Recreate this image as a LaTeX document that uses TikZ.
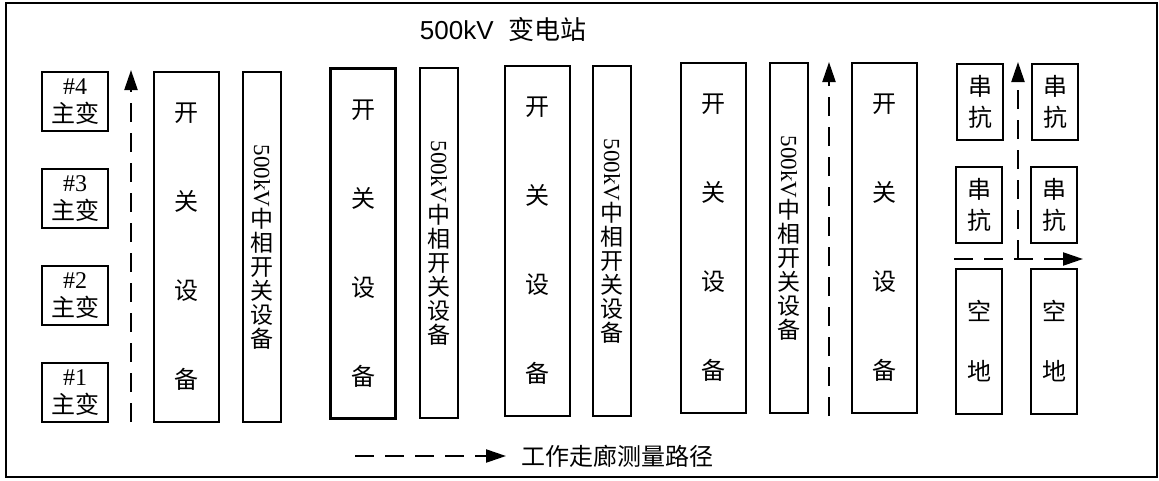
\documentclass[tikz,border=0pt]{standalone}
\usepackage{fontspec}
\usepackage{graphicx}
\setmainfont{Liberation Serif}
\newfontfamily\cjk{Noto Sans CJK SC}
\newfontfamily\lsans{Liberation Sans}
\usetikzlibrary{arrows.meta}
\tikzset{
  eqbox/.style={draw, line width=2.2pt, inner sep=0pt, align=center, rectangle},
  swbox/.style={eqbox, minimum width=65pt, minimum height=350pt, font=\cjk\fontsize{24pt}{89pt}\selectfont},
  vbox/.style={eqbox, minimum width=38pt, minimum height=350pt, font=\fontsize{23pt}{24pt}\selectfont},
  trbox/.style={eqbox, minimum width=66pt, minimum height=59pt, font=\fontsize{24pt}{28pt}\selectfont},
  cxbox/.style={eqbox, minimum width=46pt, minimum height=76pt, font=\cjk\fontsize{24pt}{31pt}\selectfont},
  kdbox/.style={eqbox, minimum width=46pt, minimum height=145pt, font=\cjk\fontsize{24pt}{60pt}\selectfont},
  path/.style={line width=2.2pt, dash pattern=on 19pt off 11pt, -{Triangle[length=20pt,width=13pt]}},
}
\newcommand{\vtext}{\rotatebox{-90}{500kV}\\{\cjk 中}\\{\cjk 相}\\{\cjk 开}\\{\cjk 关}\\{\cjk 设}\\{\cjk 备}}
\begin{document}
\begin{tikzpicture}[x=1pt,y=-1pt]
\useasboundingbox (0,0) rectangle (1159,480);
\draw[line width=2.2pt] (6,3) rectangle (1157,477);
\node[font=\fontsize{26pt}{30pt}\selectfont] (title) at (503,30) {\lsans 500kV\ \ {\cjk 变电站}};
% transformers
\node[trbox] (t4) at (75,101.5) {\#4\\{\cjk 主变}};
\node[trbox] (t3) at (75,198.5) {\#3\\{\cjk 主变}};
\node[trbox] (t2) at (75,295.5) {\#2\\{\cjk 主变}};
\node[trbox] (t1) at (75,392.5) {\#1\\{\cjk 主变}};
% switch equipment
\node[swbox] (s1) at (186.5,247) {开\\关\\设\\备};
\node[vbox] (v1) at (262,247) {\vtext};
\node[swbox] (s2) at (363,243.5) {开\\关\\设\\备};
\node[vbox] (v2) at (439,243) {\vtext};
\node[swbox] (s3) at (537.5,241) {开\\关\\设\\备};
\node[vbox] (v3) at (612,241) {\vtext};
\node[swbox] (s4) at (713.5,238) {开\\关\\设\\备};
\node[vbox] (v4) at (789,238) {\vtext};
\node[swbox] (s5) at (884.5,238) {开\\关\\设\\备};
% series reactors
\node[cxbox] (c1) at (980,102) {串\\抗};
\node[cxbox] (c2) at (1055,102) {串\\抗};
\node[cxbox] (c3) at (979,205) {串\\抗};
\node[cxbox] (c4) at (1054,205) {串\\抗};
\node[kdbox] (k1) at (979,341.5) {空\\地};
\node[kdbox] (k2) at (1054,341.5) {空\\地};
% paths
\coordinate (a1s) at (131,422);
\coordinate (a1e) at (131,70);
\coordinate (a2s) at (829,416);
\coordinate (a2e) at (829,62);
\coordinate (hs) at (954,259);
\coordinate (he) at (1083,259);
\coordinate (vs) at (1018,259);
\coordinate (ve) at (1018,62);
\draw[path] (a1s) -- (a1e);
\draw[path] (a2s) -- (a2e);
\draw[path] (hs) -- (he);
\draw[path] (vs) -- (ve);
% legend
\coordinate (ls) at (355,456);
\coordinate (le) at (506,456);
\draw[path] (ls) -- (le);
\node[anchor=west, inner sep=0pt, font=\cjk\fontsize{24pt}{26pt}\selectfont] (lt) at (521,456) {工作走廊测量路径};
\end{tikzpicture}
\end{document}
